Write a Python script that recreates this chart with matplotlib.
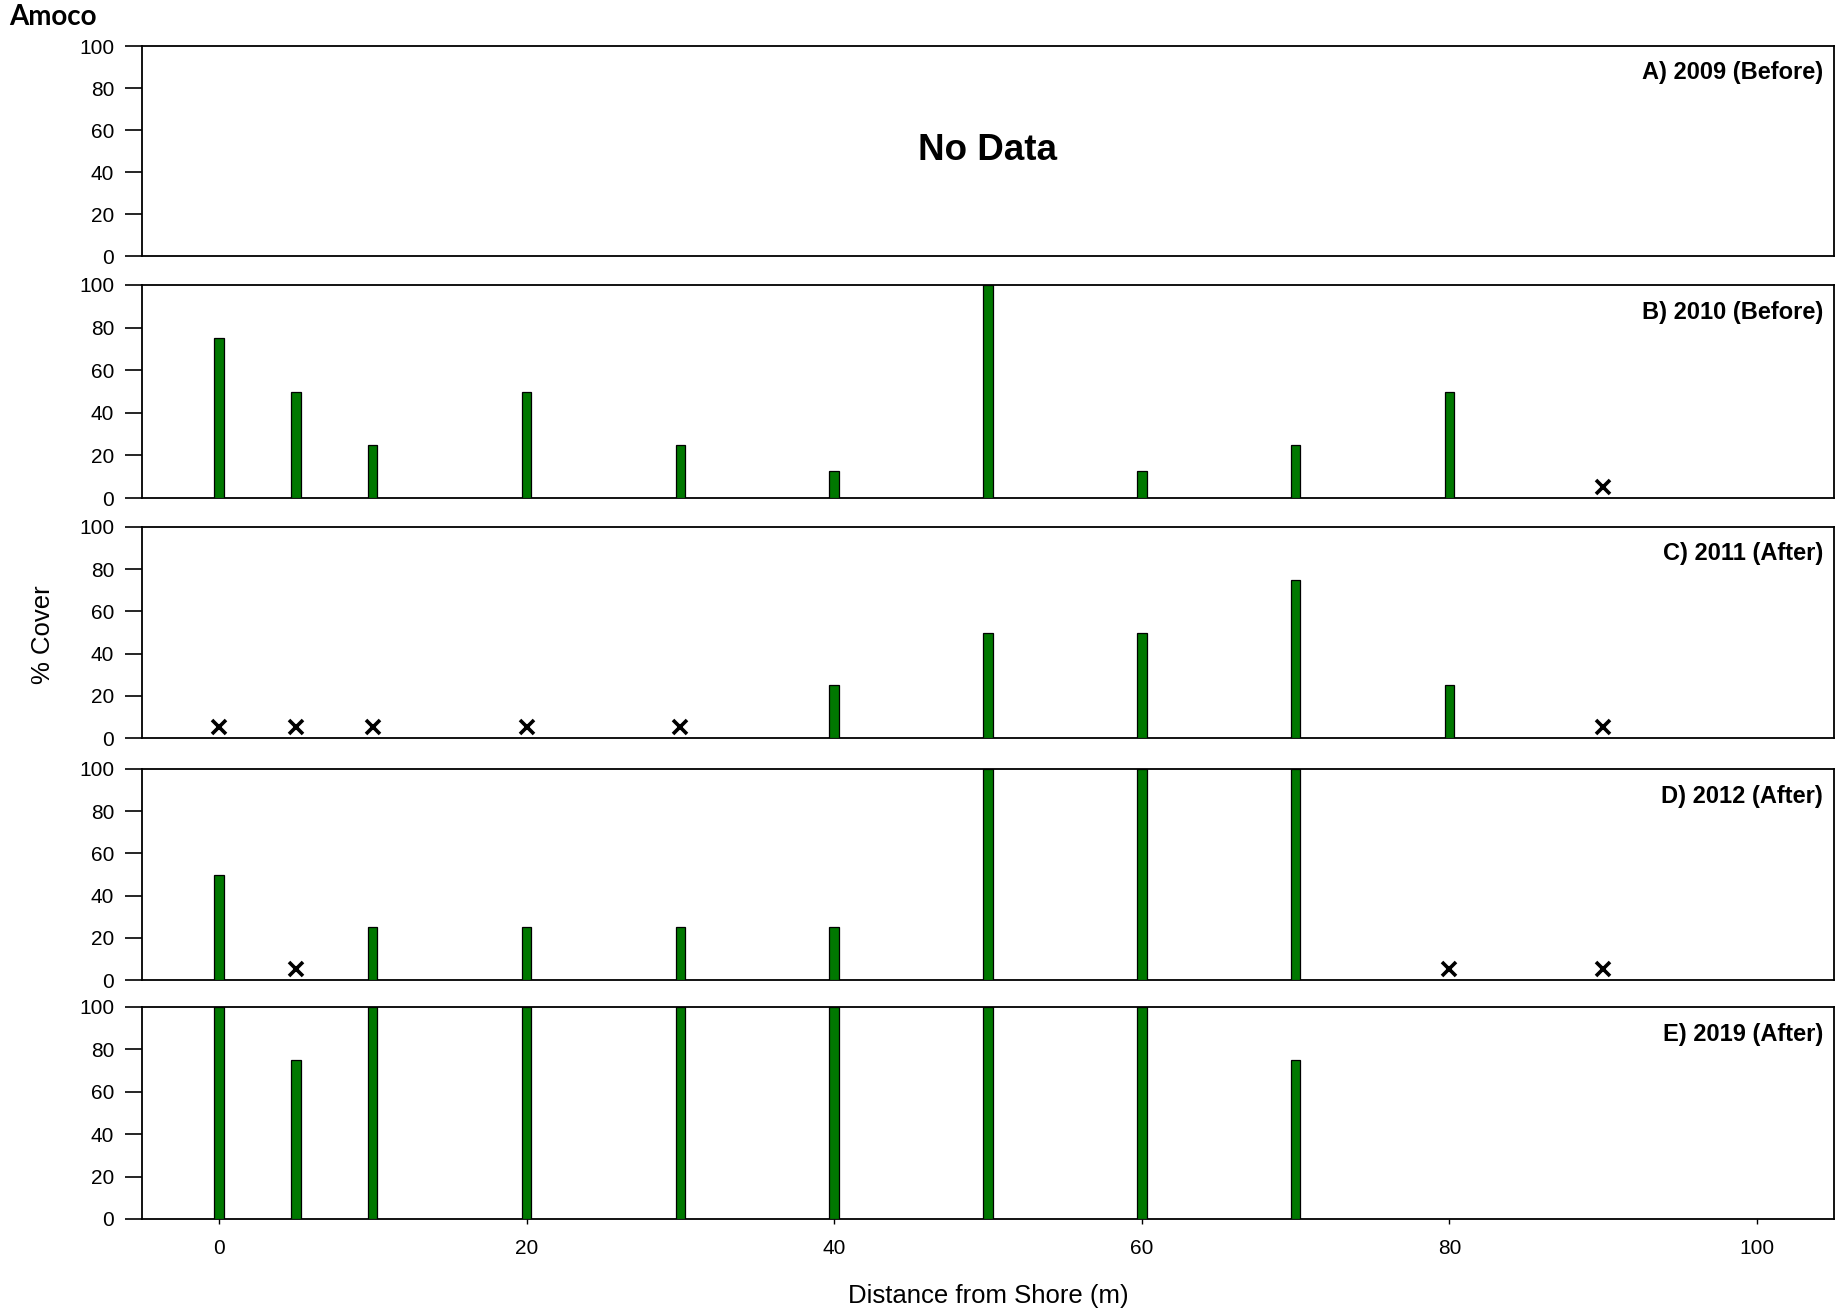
import matplotlib
matplotlib.use('Agg')
import matplotlib.pyplot as plt

plt.rcParams['font.family'] = ['Liberation Sans', 'DejaVu Sans']

# Data: % cover by distance from shore; 0 = none found (x marker), None = not sampled
distances = [0, 5, 10, 20, 30, 40, 50, 60, 70, 80, 90]
cover_2009 = None  # no data
cover_2010 = [75, 50, 25, 50, 25, 12.5, 100, 12.5, 25, 50, 0]
cover_2011 = [0, 0, 0, 0, 0, 25, 50, 50, 75, 25, 0]
cover_2012 = [50, 0, 25, 25, 25, 25, 100, 100, 100, 0, 0]
cover_2019 = [100, 75, 100, 100, 100, 100, 100, 100, 75, None, None]
panel_labels = ['A) 2009 (Before)', 'B) 2010 (Before)', 'C) 2011 (After)',
                'D) 2012 (After)', 'E) 2019 (After)']
x_ticks = [0, 20, 40, 60, 80, 100]
y_ticks = [0, 20, 40, 60, 80, 100]
series = [cover_2009, cover_2010, cover_2011, cover_2012, cover_2019]

W, H = 1840, 1311
fig = plt.figure(figsize=(W / 100, H / 100), dpi=100)
left_px, right_px = 142, 1834
bounds = [(46, 256), (285, 498), (527, 738), (769, 980), (1007, 1219)]
MARK_Y = 5
GREEN = '#007800'

for i, ((t, b), vals, lab) in enumerate(zip(bounds, series, panel_labels)):
    ax = fig.add_axes([left_px / W, 1 - b / H, (right_px - left_px) / W, (b - t) / H])
    ax.set_xlim(-5, 105)
    ax.set_ylim(0, 100)
    for sp in ax.spines.values():
        sp.set_linewidth(1.3)
        sp.set_color('black')
    if vals is None:
        ax.text(0.5, 0.5, 'No Data', transform=ax.transAxes, ha='center', va='center',
                fontsize=26.5, fontweight='bold')
    else:
        bx = [d for d, v in zip(distances, vals) if v is not None and v > 0]
        bv = [v for v in vals if v is not None and v > 0]
        mx = [d for d, v in zip(distances, vals) if v == 0]
        ax.bar(bx, bv, width=0.62, color=GREEN, edgecolor='black', linewidth=0.9, zorder=3)
        if mx:
            ax.plot(mx, [MARK_Y] * len(mx), linestyle='none', marker='x', color='black',
                    markersize=10.5, markeredgewidth=2.6, zorder=4)
    ax.set_yticks(y_ticks)
    ax.tick_params(axis='y', direction='out', length=12, width=1.2, labelsize=15, pad=8)
    if i == len(bounds) - 1:
        ax.set_xticks(x_ticks)
        ax.tick_params(axis='x', direction='out', length=3.5, width=1, labelsize=15, pad=11)
    else:
        ax.set_xticks([])
    h_px = b - t
    ax.text(0.9935, 1 - 27 / h_px, lab, transform=ax.transAxes, ha='right', va='center',
            fontsize=17, fontweight='bold')

fig.text(9 / W, 1 - 17 / H, 'Amoco', family=['Lato', 'DejaVu Sans'], fontweight='bold',
         fontsize=20, ha='left', va='center')
fig.text(43 / W, 1 - 635 / H, '% Cover', rotation=90, fontsize=18.5, ha='center', va='center')
fig.text(988 / W, 1 - 1296 / H, 'Distance from Shore (m)', fontsize=18.5, ha='center', va='center')

fig.savefig('out.png', dpi=100, facecolor='white')
